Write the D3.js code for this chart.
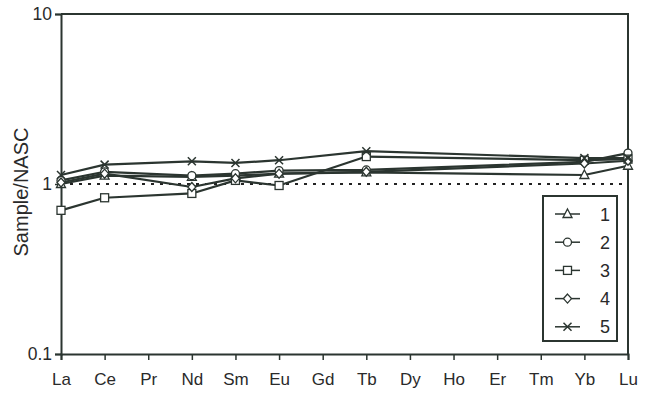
<!DOCTYPE html>
<html>
<head>
<meta charset="utf-8">
<script src="https://cdn.jsdelivr.net/npm/d3@7"></script>
<style>
  html, body { margin: 0; padding: 0; background: #fff; }
  svg { display: block; }
  text { font-family: "Liberation Sans", Arial, sans-serif; fill: #2a2a2a; }
</style>
</head>
<body>
<svg id="chart" width="653" height="393"></svg>
<script>
// REE elements on the x axis
const elements = ["La", "Ce", "Pr", "Nd", "Sm", "Eu", "Gd", "Tb", "Dy", "Ho", "Er", "Tm", "Yb", "Lu"];
// NASC-normalised values per sample (null = not analysed)
const sample1 = [1.00, 1.12, null, 1.10, 1.12, 1.15, null, 1.17, null, null, null, null, 1.13, 1.28];
const sample2 = [1.05, 1.18, null, 1.12, 1.15, 1.20, null, 1.21, null, null, null, null, 1.35, 1.52];
const sample3 = [0.70, 0.83, null, 0.88, 1.05, 0.98, null, 1.45, null, null, null, null, 1.38, 1.40];
const sample4 = [1.02, 1.15, null, 0.96, 1.08, 1.15, null, 1.18, null, null, null, null, 1.32, 1.37];
const sample5 = [1.13, 1.30, null, 1.36, 1.33, 1.38, null, 1.56, null, null, null, null, 1.42, 1.42];
const seriesNames = ["1", "2", "3", "4", "5"];
const markerTypes = ["triangle", "circle", "square", "diamond", "cross"];
const yTicks = [0.1, 1, 10];

const series = [sample1, sample2, sample3, sample4, sample5].map((vals, i) => ({
  name: seriesNames[i],
  marker: markerTypes[i],
  points: vals.map((v, j) => ({ el: elements[j], v })).filter(d => d.v != null)
}));

const ink = "#2b3530";
const svg = d3.select("#chart");
const m = { left: 61, right: 628, top: 14, bottom: 354 };

const x = d3.scalePoint().domain(elements).range([m.left, m.right]);
const y = d3.scaleLog().domain([0.1, 10]).range([m.bottom, m.top]);

// plot frame (top and right edges)
svg.append("path")
  .attr("d", `M${m.left},${m.top}H${m.right}V${m.bottom}`)
  .attr("fill", "none").attr("stroke", ink).attr("stroke-width", 2);

// reference line at 1
svg.append("line")
  .attr("x1", m.left).attr("x2", m.right)
  .attr("y1", y(1)).attr("y2", y(1))
  .attr("stroke", "#222").attr("stroke-width", 2)
  .attr("stroke-dasharray", "3,6");

// axes
const xAxis = svg.append("g")
  .attr("transform", `translate(0,${m.bottom})`)
  .call(d3.axisBottom(x).tickSize(6).tickPadding(13));
const yAxis = svg.append("g")
  .attr("transform", `translate(${m.left},0)`)
  .call(d3.axisLeft(y).tickValues(yTicks).tickFormat(d3.format("~g")).tickSize(6).tickPadding(3));
[xAxis, yAxis].forEach(g => {
  g.select(".domain").attr("stroke", ink).attr("stroke-width", 2);
  g.selectAll(".tick line").attr("stroke", ink).attr("stroke-width", 1.5);
  g.selectAll("text").style("font-size", "17.5px").attr("fill", "#2a2a2a");
});
xAxis.selectAll("text").style("font-size", "17px");

svg.append("text")
  .attr("transform", `translate(28,${(m.top + m.bottom) / 2 + 8}) rotate(-90)`)
  .attr("text-anchor", "middle")
  .style("font-size", "20px")
  .text("Sample/NASC");

// marker drawing
function drawMarker(g, type, cx, cy) {
  const s = 4;
  if (type === "triangle") {
    g.append("path").attr("d", `M${cx},${cy - s - 1}L${cx + s + 0.5},${cy + s - 0.5}L${cx - s - 0.5},${cy + s - 0.5}Z`)
      .attr("fill", "#fff").attr("stroke", ink).attr("stroke-width", 1.3);
  } else if (type === "circle") {
    g.append("circle").attr("cx", cx).attr("cy", cy).attr("r", s)
      .attr("fill", "#fff").attr("stroke", ink).attr("stroke-width", 1.3);
  } else if (type === "square") {
    g.append("rect").attr("x", cx - s).attr("y", cy - s).attr("width", 2 * s).attr("height", 2 * s)
      .attr("fill", "#fff").attr("stroke", ink).attr("stroke-width", 1.3);
  } else if (type === "diamond") {
    g.append("path").attr("d", `M${cx},${cy - s - 0.5}L${cx + s},${cy}L${cx},${cy + s + 0.5}L${cx - s},${cy}Z`)
      .attr("fill", "#fff").attr("stroke", ink).attr("stroke-width", 1.3);
  } else {
    g.append("path").attr("d", `M${cx - s},${cy - s}L${cx + s},${cy + s}M${cx + s},${cy - s}L${cx - s},${cy + s}`)
      .attr("fill", "none").attr("stroke", ink).attr("stroke-width", 1.5);
  }
}

const line = d3.line().x(d => x(d.el)).y(d => y(d.v));
const lineLayer = svg.append("g");
series.forEach(s => {
  lineLayer.append("path").datum(s.points)
    .attr("d", line).attr("fill", "none")
    .attr("stroke", ink).attr("stroke-width", 2.2).attr("stroke-linejoin", "round");
});
const markerLayer = svg.append("g");
series.forEach(s => {
  s.points.forEach(p => drawMarker(markerLayer, s.marker, x(p.el), y(p.v)));
});

// legend
const lg = svg.append("g").attr("transform", "translate(543,196)");
lg.append("rect").attr("width", 74).attr("height", 145)
  .attr("fill", "#fff").attr("stroke", ink).attr("stroke-width", 2);
series.forEach((s, i) => {
  const yy = 18 + i * 28.2;
  lg.append("line").attr("x1", 12).attr("x2", 37).attr("y1", yy).attr("y2", yy)
    .attr("stroke", ink).attr("stroke-width", 1.5);
  drawMarker(lg, s.marker, 24.5, yy);
  lg.append("text").attr("x", 62).attr("y", yy + 6.5)
    .attr("text-anchor", "middle").style("font-size", "18px").text(s.name);
});
</script>
</body>
</html>
